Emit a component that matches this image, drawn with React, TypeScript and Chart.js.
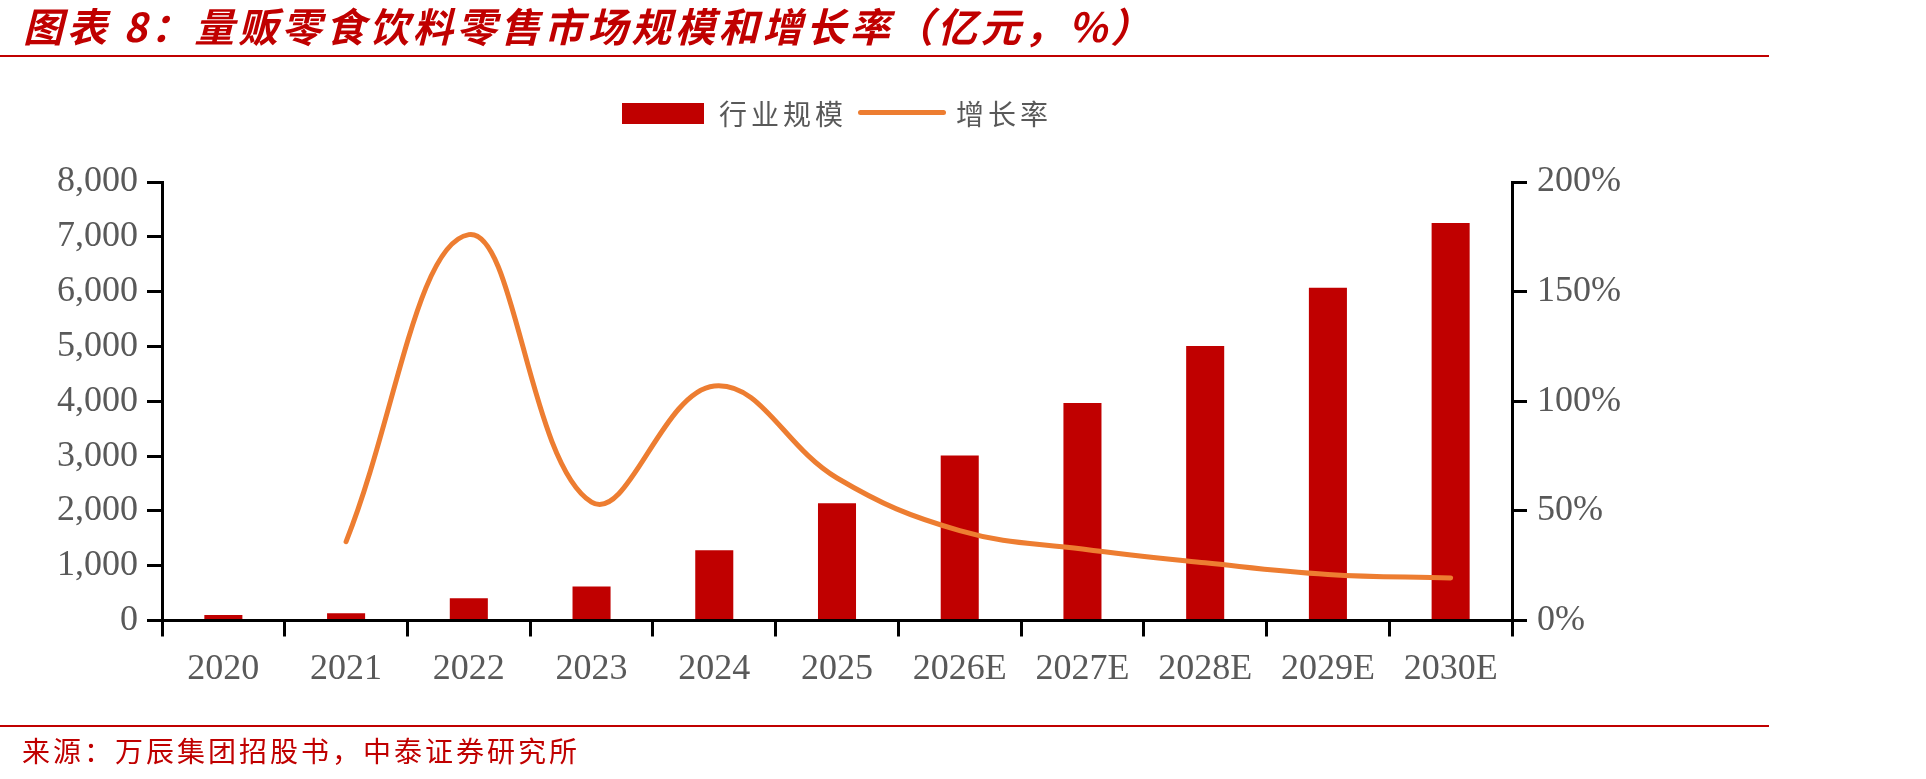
import React, { useEffect, useRef } from 'react';
import { Chart, registerables } from 'chart.js';

Chart.register(...registerables);

// Years on the category axis
const categories = ['2020', '2021', '2022', '2023', '2024', '2025', '2026E', '2027E', '2028E', '2029E', '2030E'];
// 行业规模, 亿元
const marketSize = [100, 130, 405, 620, 1280, 2140, 3010, 3970, 5010, 6070, 7250];
// 增长率, %
const growthRate = [null, 36, 176, 54, 107, 65, 41, 32.6, 26.3, 21, 19.4];
// Axis tick values
const sizeTicks = [0, 1000, 2000, 3000, 4000, 5000, 6000, 7000, 8000];
const rateTicks = [0, 50, 100, 150, 200];

const RED = '#C00000';
const ORANGE = '#ED7D31';
const GREY = '#595959';
const CJK = '"Noto Sans CJK SC", "Noto Sans", sans-serif';
const SERIF = '"Liberation Serif", "DejaVu Serif", serif';

export default function App() {
  const canvasRef = useRef<HTMLCanvasElement | null>(null);

  useEffect(() => {
    document.body.style.margin = '0';
    const canvas = canvasRef.current;
    if (!canvas) return;

    const tickFont = { family: SERIF, size: 36 };

    const chart = new Chart(canvas, {
      type: 'bar',
      data: {
        labels: categories,
        datasets: [
          {
            type: 'line',
            label: '增长率',
            data: growthRate,
            yAxisID: 'y1',
            borderColor: ORANGE,
            backgroundColor: ORANGE,
            borderWidth: 5,
            borderCapStyle: 'round',
            borderJoinStyle: 'round',
            tension: 0.4,
            pointRadius: 0,
            pointHoverRadius: 0,
            fill: false,
            order: 0,
          } as any,
          {
            type: 'bar',
            label: '行业规模',
            data: marketSize,
            yAxisID: 'y',
            backgroundColor: RED,
            borderWidth: 0,
            barPercentage: 0.31,
            categoryPercentage: 1,
            order: 1,
          },
        ],
      },
      options: {
        responsive: false,
        animation: false,
        devicePixelRatio: 1,
        layout: { padding: { top: 182, left: 0, right: 0, bottom: 0 } },
        plugins: {
          legend: { display: false },
          title: { display: false },
          tooltip: { enabled: false },
        },
        scales: {
          x: {
            type: 'category',
            offset: true,
            grid: {
              offset: true,
              drawOnChartArea: false,
              drawTicks: true,
              tickLength: 16,
              color: '#000',
              lineWidth: 3,
            },
            border: { display: true, color: '#000', width: 3 },
            ticks: {
              font: tickFont,
              color: GREY,
              padding: 11,
              maxRotation: 0,
              minRotation: 0,
              autoSkip: false,
            },
            afterFit: (scale: any) => {
              scale.height = 158.5;
            },
          },
          y: {
            type: 'linear',
            position: 'left',
            min: sizeTicks[0],
            max: sizeTicks[sizeTicks.length - 1],
            afterBuildTicks: (scale: any) => {
              scale.ticks = sizeTicks.map((value) => ({ value }));
            },
            grid: {
              drawOnChartArea: false,
              drawTicks: true,
              tickLength: 15,
              color: '#000',
              lineWidth: 3,
            },
            border: { display: true, color: '#000', width: 3 },
            ticks: {
              font: tickFont,
              color: GREY,
              padding: 9,
              callback: (v: any) => Number(v).toLocaleString('en-US'),
            },
            afterFit: (scale: any) => {
              scale.width = 162;
            },
          },
          y1: {
            type: 'linear',
            position: 'right',
            min: rateTicks[0],
            max: rateTicks[rateTicks.length - 1],
            afterBuildTicks: (scale: any) => {
              scale.ticks = rateTicks.map((value) => ({ value }));
            },
            grid: {
              drawOnChartArea: false,
              drawTicks: true,
              tickLength: 15,
              color: '#000',
              lineWidth: 3,
            },
            border: { display: true, color: '#000', width: 3 },
            ticks: {
              font: tickFont,
              color: GREY,
              padding: 10,
              callback: (v: any) => `${v}%`,
            },
            afterFit: (scale: any) => {
              scale.width = 1926 - 1512;
            },
          },
        },
      },
    });

    return () => chart.destroy();
  }, []);

  const abs = (extra: React.CSSProperties): React.CSSProperties => ({ position: 'absolute', ...extra });

  return (
    <div style={{ position: 'absolute', left: 0, top: 0, width: 1926, height: 779, background: '#fff', overflow: 'hidden' }}>
      <canvas ref={canvasRef} width={1926} height={779} style={{ position: 'absolute', left: 0, top: 0, width: 1926, height: 779 }} />

      {/* heading */}
      <div
        style={abs({
          left: 23,
          top: 5,
          height: 40,
          lineHeight: '40px',
          fontFamily: CJK,
          fontSize: 40,
          fontWeight: 700,
          fontStyle: 'italic',
          color: RED,
          letterSpacing: 3.7,
          whiteSpace: 'nowrap',
        })}
      >
        图表 8：量贩零食饮料零售市场规模和增长率（亿元，%）
      </div>
      <div style={abs({ left: 0, top: 55, width: 1769, height: 2, background: RED })} />

      {/* legend */}
      <div style={abs({ left: 622, top: 103, width: 82, height: 21, background: RED })} />
      <div
        style={abs({
          left: 719,
          top: 98,
          lineHeight: '30px',
          fontFamily: CJK,
          fontSize: 28,
          color: GREY,
          letterSpacing: 4,
          whiteSpace: 'nowrap',
        })}
      >
        行业规模
      </div>
      <div style={abs({ left: 858, top: 110, width: 88, height: 5, borderRadius: 3, background: ORANGE })} />
      <div
        style={abs({
          left: 956,
          top: 98,
          lineHeight: '30px',
          fontFamily: CJK,
          fontSize: 28,
          color: GREY,
          letterSpacing: 4,
          whiteSpace: 'nowrap',
        })}
      >
        增长率
      </div>

      {/* source note */}
      <div style={abs({ left: 0, top: 725, width: 1769, height: 2, background: RED })} />
      <div
        style={abs({
          left: 22,
          top: 735,
          lineHeight: '30px',
          fontFamily: CJK,
          fontSize: 28,
          color: RED,
          letterSpacing: 3,
          whiteSpace: 'nowrap',
        })}
      >
        来源：万辰集团招股书，中泰证券研究所
      </div>
    </div>
  );
}
